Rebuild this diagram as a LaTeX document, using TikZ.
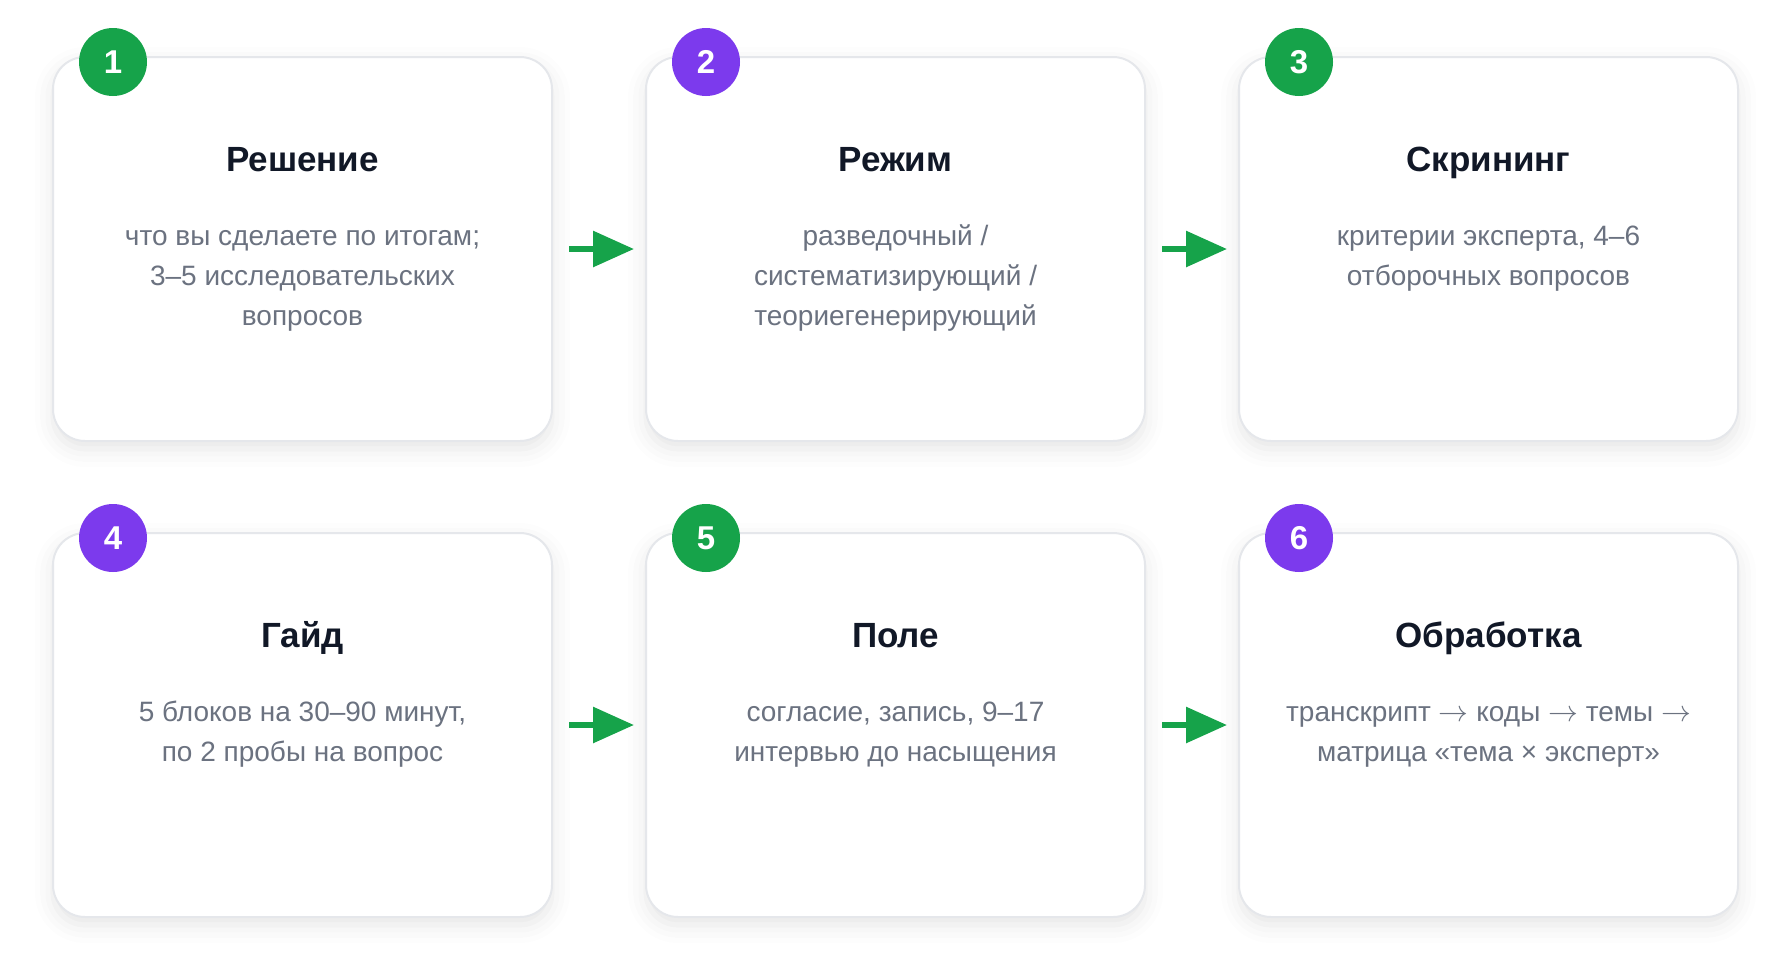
\documentclass[tikz,border=0pt]{standalone}
\usepackage{fontspec}
\setmainfont{Liberation Sans}
\usetikzlibrary{arrows.meta, shadows.blur}

\definecolor{stepgreen}{HTML}{16A34A}
\definecolor{steppurple}{HTML}{7C3AED}
\definecolor{titleink}{HTML}{111827}
\definecolor{bodyink}{HTML}{6B7280}
\definecolor{cardline}{HTML}{E5E7EB}

\newcommand{\thento}{\scalebox{1.2}{\ensuremath{\rightarrow}}}

\begin{document}
\begin{tikzpicture}[x = 1pt, y = 1pt,
        card/.style = {draw = cardline, line width = 2pt, fill = white, rounded corners = 32pt,
            minimum width = 499pt, minimum height = 384pt, inner sep = 0pt, outer sep = 0pt, anchor = north west,
            blur shadow = {shadow xshift = 0pt, shadow yshift = -8pt, shadow blur radius = 18pt, shadow opacity = 10}},
        badge/.style = {circle, minimum size = 68pt, inner sep = 0pt, text = white,
            font = \fontsize{33}{33}\selectfont\bfseries},
        cardtitle/.style = {anchor = base, text = titleink, font = \fontsize{35}{35}\selectfont\bfseries},
        cardbody/.style = {anchor = north, align = center, inner sep = 0pt, text = bodyink,
            font = \fontsize{28}{40}\selectfont},
        flow/.style = {stepgreen, line width = 6pt, -{Triangle[length = 41pt, width = 35pt]},
            shorten <= 17pt, shorten >= 12pt}]
        %
        \def\ColOne{53}
        \def\ColTwo{646}
        \def\ColThree{1239}
        \def\RowOne{-57}
        \def\RowTwo{-533}

        \useasboundingbox (0, 0) rectangle (1790, -977);

        % cards
        \foreach \i/\x/\y/\col/\head/\txt in {
            1/\ColOne/\RowOne/stepgreen/{Решение}/{что вы сделаете по итогам;\\3–5 исследовательских\\вопросов},
            2/\ColTwo/\RowOne/steppurple/{Режим}/{разведочный /\\систематизирующий /\\теориегенерирующий},
            3/\ColThree/\RowOne/stepgreen/{Скрининг}/{критерии эксперта, 4–6\\отборочных вопросов},
            4/\ColOne/\RowTwo/steppurple/{Гайд}/{5 блоков на 30–90 минут,\\по 2 пробы на вопрос},
            5/\ColTwo/\RowTwo/stepgreen/{Поле}/{согласие, запись, 9–17\\интервью до насыщения},
            6/\ColThree/\RowTwo/steppurple/{Обработка}/{транскрипт \thento{} коды \thento{} темы \thento\\матрица «тема × эксперт»}}
        {
            \node [card] (card\i) at (\x, \y) {};
            \node [badge, fill = \col] (badge\i) at ([xshift = 60pt, yshift = -5pt] card\i.north west) {\i};
            \node [cardtitle] (title\i) at ([yshift = -114pt] card\i.north) {\head};
            \node [cardbody] (body\i) at ([yshift = -160pt] card\i.north) {\strut\txt};
        }

        % arrows
        \foreach \a/\b in {1/2, 2/3, 4/5, 5/6}
            \draw [flow] (card\a.east) -- (card\b.west);
    \end{tikzpicture}
\end{document}
